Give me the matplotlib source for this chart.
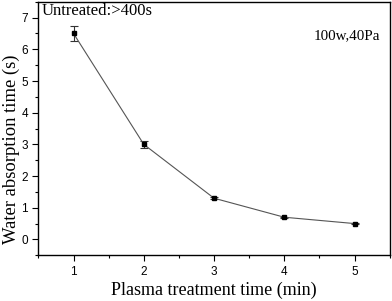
import matplotlib
matplotlib.use('Agg')
import matplotlib.pyplot as plt
from matplotlib.ticker import MultipleLocator

treat_time = [1, 2, 3, 4, 5]
absorb_time = [6.5, 3.0, 1.3, 0.7, 0.5]
absorb_err = [0.25, 0.1, 0.04, 0.02, 0.02]

fig = plt.figure(figsize=(3.92, 3.01), dpi=100)
ax = fig.add_axes([0.098, 0.152, 0.896, 0.842])

ax.errorbar(treat_time, absorb_time, yerr=absorb_err, color='#555555', lw=0.8,
            marker='s', markersize=3, mfc='black', mec='black',
            ecolor='#333333', elinewidth=0.8, capsize=3, capthick=0.8)

ax.set_xlim(0.5, 5.5)
ax.set_ylim(-0.5, 7.5)
ax.xaxis.set_major_locator(MultipleLocator(1))
ax.xaxis.set_minor_locator(MultipleLocator(0.5))
ax.yaxis.set_major_locator(MultipleLocator(1))
ax.yaxis.set_minor_locator(MultipleLocator(0.5))
ax.tick_params(which='major', direction='out', length=4, width=0.8, labelsize=8.5)
ax.tick_params(which='minor', direction='out', length=2.5, width=0.8)
for lab in ax.get_xticklabels() + ax.get_yticklabels():
    lab.set_family('Liberation Sans')
for s in ax.spines.values():
    s.set_linewidth(1.0)

ax.set_xlabel('Plasma treatment time (min)', family='Liberation Serif', fontsize=13, labelpad=3)
ax.set_ylabel('Water absorption time (s)', family='Liberation Serif', fontsize=13.4)
ax.yaxis.set_label_coords(-0.052, 0.42)

ax.text(0.01, 0.995, 'Untreated:>400s', transform=ax.transAxes, ha='left', va='top',
        family='Liberation Serif', fontsize=12)
ax.text(0.972, 0.866, '100w,40Pa', transform=ax.transAxes, ha='right', va='center',
        family='Liberation Serif', fontsize=10.8)

fig.savefig('out.png', dpi=100)
